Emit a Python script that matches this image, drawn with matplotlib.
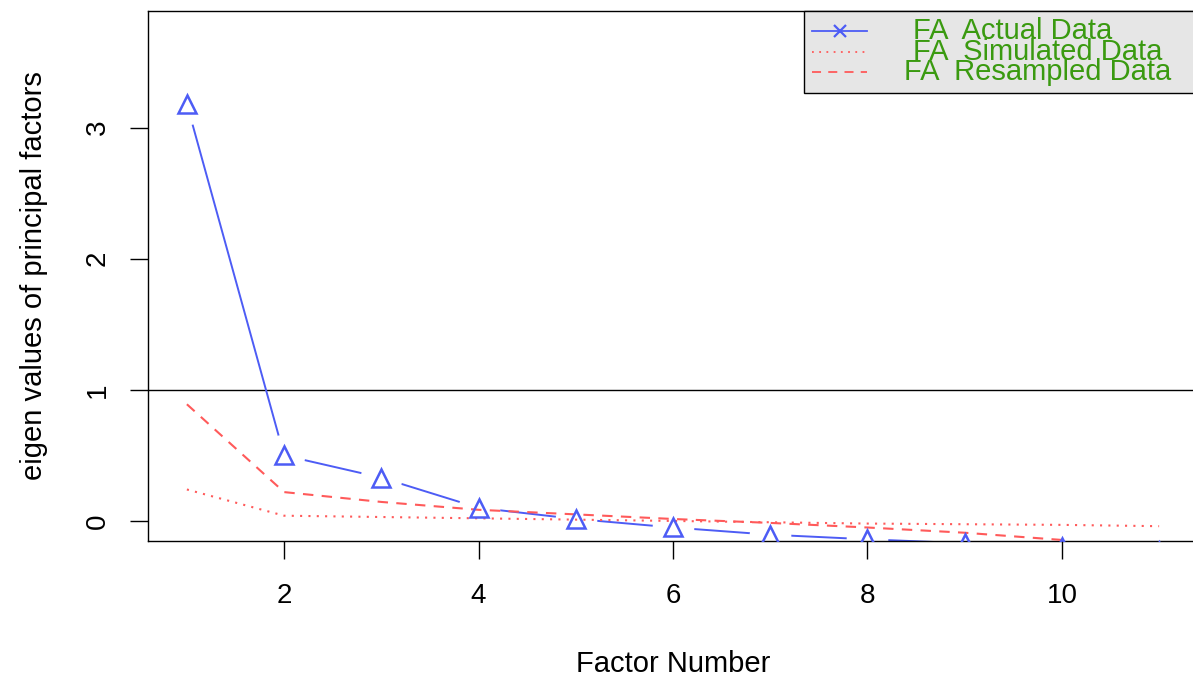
import matplotlib
matplotlib.use("Agg")
import matplotlib.pyplot as plt
from matplotlib.lines import Line2D
from matplotlib.patches import Rectangle

plt.rcParams['font.family'] = ['Liberation Sans', 'DejaVu Sans']

factors_actual = [1, 2, 3, 4, 5, 6, 7, 8, 9, 10, 11]
actual = [3.18, 0.50, 0.33, 0.10, 0.015, -0.05, -0.105, -0.14, -0.17, -0.195, -0.23]
factors_sim = [1, 2, 3, 4, 5, 6, 7, 8, 9, 10, 11]
simulated = [0.24, 0.04, 0.03, 0.02, 0.01, 0.0, -0.01, -0.02, -0.025, -0.03, -0.04]
factors_res = [1, 2, 3, 4, 5, 6, 7, 8, 9, 10]
resampled = [0.89, 0.22, 0.145, 0.085, 0.05, 0.015, -0.015, -0.05, -0.09, -0.145]
xticks = [2, 4, 6, 8, 10]
yticks = [0, 1, 2, 3]
legend_labels = ["FA  Actual Data", "FA  Simulated Data", "FA  Resampled Data"]

blue = '#4d5cf5'
red = '#ff5a5a'
green = '#3a9a10'

fig = plt.figure(figsize=(11.93, 6.78), dpi=100)
ax = fig.add_axes([148/1193, 1-541/678, 1050/1193, 530/678])

ax.plot(factors_actual, actual, color=blue, lw=1.4, zorder=1)
ax.plot(factors_actual, actual, ls='none', marker='o', ms=30, mfc='white', mec='none', zorder=2)
ax.plot(factors_sim, simulated, color=red, lw=1.5, ls=(0, (1, 3)), zorder=3)
ax.plot(factors_res, resampled, color=red, lw=1.5, ls=(0, (5, 4)), zorder=3)
ax.plot(factors_actual, actual, ls='none', marker='^', ms=13, mfc='none', mec=blue, mew=1.8, zorder=4)
ax.axhline(1, color='black', lw=1.0, zorder=0)

ax.set_xlim(0.6, 11.4)
ax.set_ylim(-0.153, 3.89)
ax.set_xticks(xticks)
ax.set_yticks(yticks)
ax.tick_params(axis='both', length=13, width=1, labelsize=20, colors='black')
ax.tick_params(axis='x', pad=17)
ax.tick_params(axis='y', pad=14)
for lab in ax.get_yticklabels():
    lab.set_rotation(90)
    lab.set_va('center')
for s in ax.spines.values():
    s.set_linewidth(1.0)
ax.set_xlabel("Factor Number", fontsize=21, labelpad=30)
ax.set_ylabel("eigen values of principal factors", fontsize=21, labelpad=26)

# legend box
rect = Rectangle((804/1193, 1-93/678), 400/1193, 82/678, transform=fig.transFigure,
                 facecolor='#e6e6e6', edgecolor='black', lw=1.0, zorder=5)
fig.patches.append(rect)
rows_y = [1-31/678, 1-52/678, 1-72/678]
styles = [dict(color=blue, lw=1.3, marker='x', ms=9, mew=1.6, markevery=[1]),
          dict(color=red, lw=1.3, ls=(0, (1, 3))),
          dict(color=red, lw=1.3, ls=(0, (5, 4)))]
for yy, st in zip(rows_y, styles):
    fig.add_artist(Line2D([812/1193, 840/1193, 867/1193], [yy, yy, yy], transform=fig.transFigure, zorder=6, **st))
text_x = [1013/1193, 1038/1193, 1038/1193]
for yy, tx, lab in zip(rows_y, text_x, legend_labels):
    fig.text(tx, yy, lab, color=green, fontsize=21, ha='center', va='center', zorder=7)

fig.savefig("out.png", dpi=100)
